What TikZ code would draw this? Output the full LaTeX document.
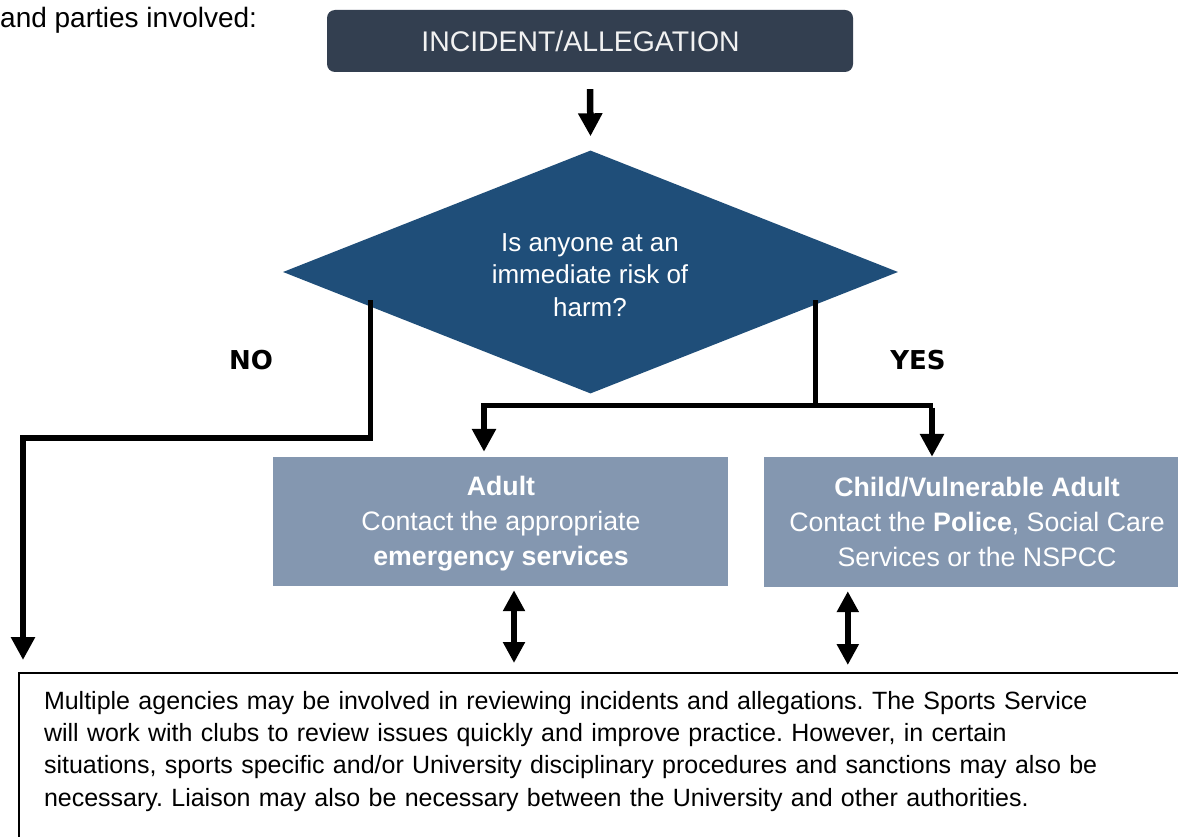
\documentclass[tikz,border=0pt]{standalone}
\usepackage{fontspec}
\setmainfont{Liberation Sans}
\newfontfamily\labfont{DejaVu Sans}
\usetikzlibrary{arrows.meta,shapes.geometric,calc}
\definecolor{topfill}{HTML}{333F50}
\definecolor{diafill}{HTML}{1F4E79}
\definecolor{boxfill}{HTML}{8497B0}
\definecolor{toptext}{HTML}{F2F2F2}
\tikzset{
  conn/.style={line width=5pt},
  arr/.style={line width=6.5pt,-{Triangle[width=23pt,length=23pt]}},
  darr/.style={line width=6.5pt,{Triangle[width=21pt,length=21pt]}-{Triangle[width=21pt,length=21pt]}},
  lightbox/.style={fill=boxfill,text=white,align=center,inner sep=0pt,
    font=\fontsize{26.7}{35}\selectfont},
  yesno/.style={font=\labfont\bfseries\fontsize{26}{32}\selectfont},
}
\begin{document}
\frenchspacing
\begin{tikzpicture}[x=1pt,y=-1pt]
\clip (0,0) rectangle (1178,837);
\fill[white] (0,0) rectangle (1178,837);

\node[anchor=west,inner sep=0pt,font=\fontsize{28}{32}\selectfont] (intro) at (0,20) {and parties involved:};

\node[fill=topfill,rounded corners=8pt,minimum width=526pt,minimum height=62pt] (top) at (590,41) {};
\node[text=toptext,font=\fontsize{28.4}{32}\selectfont,inner sep=0pt] (toptxt) at (580.5,41) {INCIDENT/ALLEGATION};

\node[diamond,fill=diafill,minimum width=615pt,minimum height=243pt,inner sep=0pt] (dia) at (590.5,272) {};
\node[text=white,align=center,font=\fontsize{26}{32.5}\selectfont] (diatext) at (590,275)
  {Is anyone at an\\immediate risk of\\harm?};

\node[lightbox,minimum width=455pt,minimum height=129pt] (adult) at (500.5,521.5) {};
\node[lightbox] (adulttxt) at (501,523.5)
  {\textbf{Adult}\\Contact the appropriate\\\textbf{emergency services}};
\node[lightbox,minimum width=426pt,minimum height=130pt] (child) at (977,522)
  {\textbf{Child/Vulnerable Adult}\\Contact the \textbf{Police}, Social Care\\Services or the NSPCC};

\node[draw=black,line width=2pt,anchor=north west,minimum width=1200pt,
  inner xsep=21pt,inner ysep=18pt,align=left,text width=1150pt,
  font=\fontsize{25}{32.4}\selectfont] (note) at (18,672)
  {Multiple agencies may be involved in reviewing incidents and allegations. The Sports Service\\
   will work with clubs to review issues quickly and improve practice. However, in certain\\
   situations, sports specific and/or University disciplinary procedures and sanctions may also be\\
   necessary. Liaison may also be necessary between the University and other authorities.\\[40pt]\strut};

\node[yesno] (no) at (251,360) {NO};
\node[yesno] (yes) at (918,360) {YES};

% top arrow
\draw[arr] ([yshift=-17pt]top.south) -- ([yshift=14pt]dia.north);

% NO branch
\coordinate (nl) at (370,300);
\coordinate (nc) at (370,438);
\draw[conn] (nl) -- (nc);
\draw[arr] ([xshift=2.5pt]nc) -| ([xshift=5pt,yshift=12pt]note.north west);

% YES branch
\coordinate (yr) at (815,300);
\coordinate (yj) at (815,405);
\coordinate (yl) at (484,405);
\coordinate (yrr) at (933,405);
\draw[conn] (yr) -- (yj);
\draw[conn] ([xshift=-3pt]yl) -- (yrr);
\draw[arr] ([yshift=-2.5pt]yl) -- ([yshift=5pt]yl |- adult.north);
\draw[arr] ([xshift=-1pt,yshift=-2.5pt]yrr) -- ([xshift=-1pt]yrr |- child.north);

% double arrows
\draw[darr] ([xshift=13.5pt,yshift=-4pt]adult.south) -- ([xshift=13.5pt,yshift=9pt]adult.south |- note.north);
\draw[darr] ([xshift=84pt,yshift=-4pt]child.south west) -- ([xshift=84pt,yshift=7pt]child.south west |- note.north);
\end{tikzpicture}
\end{document}
